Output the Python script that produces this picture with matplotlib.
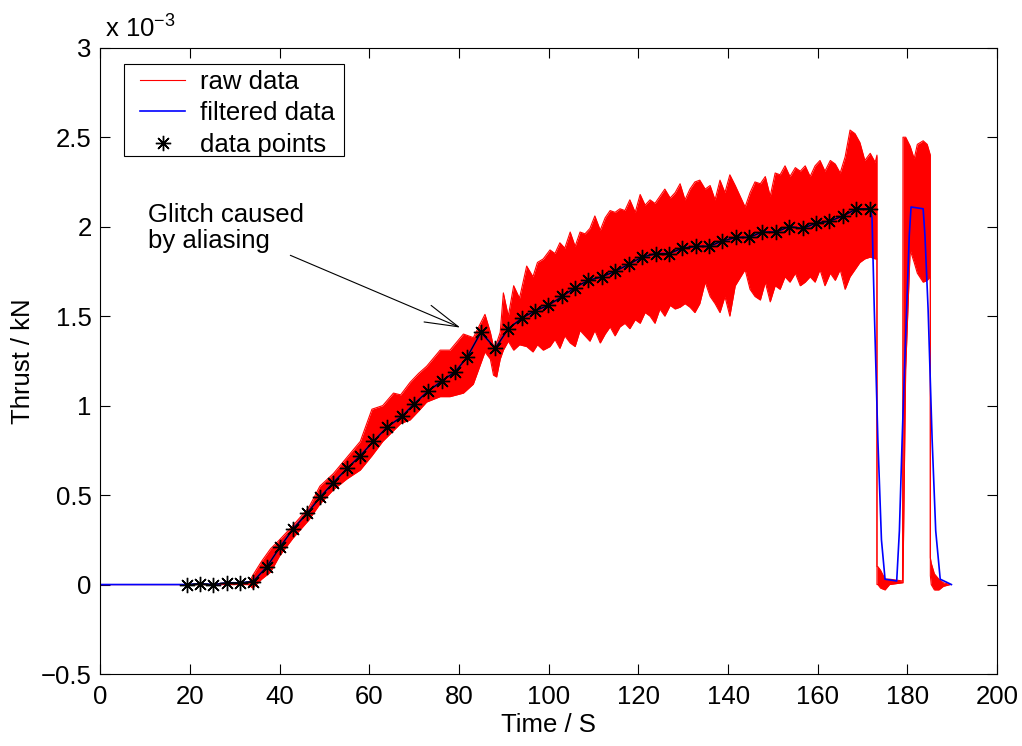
# thrust test: raw signal envelope, filtered signal and sampled data points

import matplotlib.pyplot as plt
from matplotlib.patches import Rectangle

plt.rcParams['font.family'] = ['Liberation Sans', 'DejaVu Sans']
plt.rcParams['font.size'] = 18.5

# values in units of 1e-3 kN

# raw data, drawn as the band the noisy signal fills (time, lower, upper)
raw_t = [0, 33, 34, 36, 38, 40, 43, 46.5, 49, 52, 55, 58, 60.6, 63, 65.4, 67,
         69.1, 71, 72.8, 75.8, 78.0, 81.0, 83.2, 85.8, 87.0, 87.7, 88.4, 89.2,
         89.9, 91.0, 92.2, 93.5, 95.1, 96.5, 97.5, 98.8,
         100.3, 101.4, 102.5, 103.6, 104.8, 105.9, 107.0, 108.1, 109.2, 110.3,
         111.5, 112.6, 113.7, 114.8, 115.9, 117.0, 118.1, 119.3, 120.4, 121.5,
         122.6, 123.7, 124.8, 125.9, 127.1, 128.2, 129.3, 130.4, 131.5, 132.6,
         133.7, 134.9, 136.0, 137.1, 138.2, 139.3, 140.4, 141.6,
         143.8, 144.9, 146.0, 147.2, 148.3, 149.4, 150.5, 151.6, 152.7, 153.8,
         155.0, 156.1, 157.2, 158.3, 159.4, 160.5, 161.6, 162.8, 163.9, 165.0,
         166.1, 167.2, 168.3, 169.4, 170.5, 171.7, 172.8,
         173.2, 173.2, 173.4, 174, 175, 176, 178.9, 179.0, 179.6, 180.6, 181.5,
         182.2, 183.5, 184.4, 185.1, 185.1, 185.3, 186, 187, 188, 189.5]
raw_lo = [0, 0, -0.02, 0.03, 0.07, 0.16, 0.26, 0.36, 0.45, 0.53, 0.59, 0.64,
          0.72, 0.80, 0.86, 0.90, 0.92, 0.97, 1.02, 1.05, 1.05, 1.07, 1.12,
          1.30, 1.26, 1.17, 1.16, 1.26, 1.31, 1.36, 1.31, 1.34, 1.33, 1.30,
          1.34, 1.31,
          1.33, 1.37, 1.32, 1.39, 1.35, 1.33, 1.42, 1.39, 1.36, 1.42,
          1.35, 1.40, 1.44, 1.39, 1.44, 1.46, 1.43, 1.48, 1.46, 1.52,
          1.50, 1.46, 1.54, 1.50, 1.56, 1.54, 1.55, 1.57, 1.55, 1.52,
          1.57, 1.69, 1.61, 1.57, 1.52, 1.61, 1.50, 1.67,
          1.76, 1.65, 1.61, 1.59, 1.69, 1.58, 1.67, 1.65, 1.72, 1.69,
          1.74, 1.67, 1.69, 1.72, 1.69, 1.76, 1.67, 1.74, 1.70, 1.76,
          1.65, 1.72, 1.76, 1.80, 1.82, 1.83, 1.82,
          1.82, 0.0, 0.0, -0.02, -0.03, 0.0, 0.01, 0.01, 1.2, 1.87, 1.80,
          1.74, 1.69, 1.70, 1.72, 0.05, 0.0, -0.03, -0.03, -0.01, 0]
raw_hi = [0, 0, 0.05, 0.13, 0.20, 0.25, 0.33, 0.43, 0.55, 0.62, 0.71, 0.80,
          0.98, 1.00, 1.07, 1.06, 1.13, 1.18, 1.22, 1.31, 1.31, 1.40, 1.38,
          1.51, 1.41, 1.33, 1.35, 1.41, 1.63, 1.50, 1.67, 1.60, 1.78, 1.72,
          1.80, 1.82,
          1.87, 1.85, 1.91, 1.88, 1.97, 1.89, 1.97, 1.96, 1.99, 2.06,
          1.98, 2.05, 2.09, 2.08, 2.10, 2.09, 2.15, 2.08, 2.18, 2.12,
          2.15, 2.13, 2.17, 2.21, 2.16, 2.19, 2.24, 2.15, 2.21, 2.25,
          2.26, 2.21, 2.23, 2.15, 2.26, 2.19, 2.29, 2.23,
          2.11, 2.19, 2.25, 2.24, 2.28, 2.17, 2.30, 2.29, 2.34, 2.28,
          2.33, 2.31, 2.34, 2.28, 2.34, 2.37, 2.31, 2.37, 2.35, 2.30,
          2.39, 2.54, 2.52, 2.47, 2.37, 2.41, 2.36,
          2.40, 0.10, 0.10, 0.08, 0.03, 0.03, 0.02, 2.50, 2.50, 2.45, 2.38,
          2.46, 2.48, 2.46, 2.40, 0.15, 0.12, 0.06, 0.03, 0.01, 0]

# filtered data
filt_t = [0, 19.4, 22.3, 25.2, 28.3, 31.2, 34.1, 37.2, 40.1, 43.0, 46.2, 49.1,
          52.0, 55.1, 58.0, 60.9, 64.0, 67.3, 70.0, 73.1, 76.3, 79.2, 81.8,
          84.9, 88.1, 91.0, 94.1, 97.0, 99.9, 103.0, 105.9, 108.8, 111.9,
          114.8, 117.9, 120.8, 124.0, 126.9, 129.8, 132.9, 135.8, 138.7,
          141.8, 144.7, 147.6, 150.7, 153.6, 156.7, 159.6, 162.5, 165.7,
          168.6, 171.7, 172.1, 172.6, 173.4, 174.2, 175.0, 177.6, 178.2,
          178.8, 179.4, 179.9, 180.4, 180.8, 183.5, 183.9, 184.6, 185.5,
          186.3, 187.3, 189.8]
filt_y = [0, 0.0, 0.005, 0.0, 0.01, 0.01, 0.017, 0.10, 0.21, 0.31, 0.40, 0.49,
          0.57, 0.65, 0.72, 0.80, 0.88, 0.94, 1.01, 1.08, 1.14, 1.19, 1.27,
          1.41, 1.32, 1.43, 1.49, 1.53, 1.56, 1.61, 1.66, 1.70, 1.72, 1.75,
          1.79, 1.83, 1.85, 1.85, 1.88, 1.89, 1.89, 1.92, 1.94, 1.94, 1.97,
          1.97, 2.00, 1.99, 2.02, 2.03, 2.06, 2.10, 2.10, 2.05, 1.54, 0.81,
          0.25, 0.03, 0.02, 0.3, 0.8, 1.25, 1.6, 1.95, 2.11, 2.10, 1.95,
          1.54, 0.81, 0.3, 0.03, 0.0]

# sampled data points
pts_t = [19.4, 22.3, 25.2, 28.3, 31.2, 34.1, 37.2, 40.1, 43.0, 46.2, 49.1,
         52.0, 55.1, 58.0, 60.9, 64.0, 67.3, 70.0, 73.1, 76.3, 79.2, 81.8,
         84.9, 88.1, 91.0, 94.1, 97.0, 99.9, 103.0, 105.9, 108.8, 111.9,
         114.8, 117.9, 120.8, 124.0, 126.9, 129.8, 132.9, 135.8, 138.7,
         141.8, 144.7, 147.6, 150.7, 153.6, 156.7, 159.6, 162.5, 165.7,
         168.6, 171.7]
pts_y = [0.0, 0.005, 0.0, 0.01, 0.01, 0.017, 0.10, 0.21, 0.31, 0.40, 0.49,
         0.57, 0.65, 0.72, 0.80, 0.88, 0.94, 1.01, 1.08, 1.14, 1.19, 1.27,
         1.41, 1.32, 1.43, 1.49, 1.53, 1.56, 1.61, 1.66, 1.70, 1.72, 1.75,
         1.79, 1.83, 1.85, 1.85, 1.88, 1.89, 1.89, 1.92, 1.94, 1.94, 1.97,
         1.97, 2.00, 1.99, 2.02, 2.03, 2.06, 2.10, 2.10]

yticks = [-0.5, 0, 0.5, 1, 1.5, 2, 2.5, 3]
ytick_labels = ['\u22120.5', '0', '0.5', '1', '1.5', '2', '2.5', '3']

fig = plt.figure(figsize=(10.22, 7.46), dpi=100)
ax = fig.add_axes([0.098, 0.0965, 0.8777, 0.8395])

ax.fill_between(raw_t, raw_lo, raw_hi, color='red', lw=0)
ax.plot(raw_t, raw_lo, color='red', lw=0.8)
ax.plot(raw_t, raw_hi, color='red', lw=0.8, label='raw data')
ax.plot(filt_t, filt_y, color='blue', lw=1.2, label='filtered data')
ax.plot(pts_t, pts_y, color='black', lw=0.8)
ax.plot(pts_t, pts_y, ls='none', marker=(8, 2, 0), ms=11, mew=1.0,
        color='black', label='data points')

# annotation: text and arrow
ax.text(10.7, 2.13, 'Glitch caused\nby aliasing', va='top', ha='left',
        linespacing=1.1)
ax.annotate('', xy=(80.3, 1.436), xytext=(42.4, 1.84),
            arrowprops=dict(arrowstyle='->,head_length=1.3,head_width=0.35',
                            color='black', lw=0.8, shrinkA=0, shrinkB=0))

ax.set_xlim(0, 200)
ax.set_ylim(-0.5, 3)
ax.set_xticks(range(0, 201, 20))
ax.set_yticks(yticks)
ax.set_yticklabels(ytick_labels)
ax.tick_params(direction='in', length=7, width=0.8, top=True, right=True)
ax.tick_params(axis='x', pad=8)
ax.tick_params(axis='y', pad=6)
for s in ax.spines.values():
    s.set_linewidth(0.8)

ax.text(0.005, 1.01, r'x 10$^{\mathregular{-3}}$', transform=ax.transAxes,
        ha='left', va='bottom')

ax.set_xlabel('Time / S', labelpad=3)
ax.set_ylabel('Thrust / kN', labelpad=4)

# legend box drawn separately, MATLAB style
ax.add_patch(Rectangle((0.0268, 0.8275), 0.245, 0.147, transform=ax.transAxes,
                       facecolor='white', edgecolor='black', lw=0.8, zorder=4))
leg = ax.legend(loc='upper left', bbox_to_anchor=(0.0446, 0.964),
                frameon=False, handlelength=1.75, handletextpad=0.58,
                labelspacing=0.28, borderpad=0, borderaxespad=0)
leg.set_zorder(5)

plt.savefig('out.png')
